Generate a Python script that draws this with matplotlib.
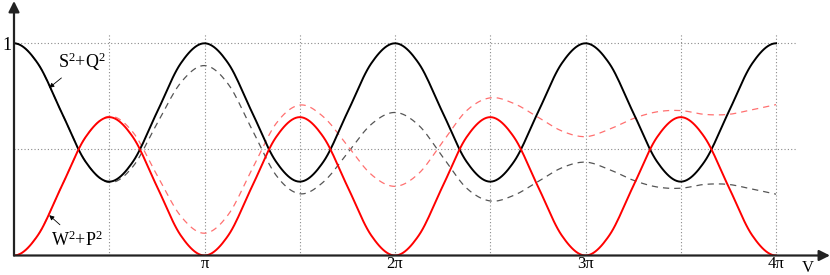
import numpy as np
import matplotlib
matplotlib.use("Agg")
import matplotlib.pyplot as plt

# ---- data (sampled every pi/8 from v = 0 to 4*pi) ----
v_over_pi = np.arange(33) / 8.0

black_solid = [1.000, 0.905, 0.674, 0.443, 0.348, 0.443, 0.674, 0.905,
               1.000, 0.905, 0.674, 0.443, 0.348, 0.443, 0.674, 0.905,
               1.000, 0.905, 0.674, 0.443, 0.348, 0.443, 0.674, 0.905,
               1.000, 0.905, 0.674, 0.443, 0.348, 0.443, 0.674, 0.905, 1.000]
red_solid = [0.000, 0.095, 0.326, 0.557, 0.652, 0.557, 0.326, 0.095,
             0.000, 0.095, 0.326, 0.557, 0.652, 0.557, 0.326, 0.095,
             0.000, 0.095, 0.326, 0.557, 0.652, 0.557, 0.326, 0.095,
             0.000, 0.095, 0.326, 0.557, 0.652, 0.557, 0.326, 0.095, 0.000]
black_dashed = [1.000, 0.905, 0.674, 0.443, 0.344, 0.420, 0.620, 0.814,
                0.895, 0.807, 0.593, 0.379, 0.291, 0.347, 0.482, 0.618,
                0.674, 0.613, 0.465, 0.318, 0.257, 0.284, 0.348, 0.413,
                0.440, 0.405, 0.355, 0.323, 0.317, 0.335, 0.335, 0.313, 0.289]
red_dashed = [0.000, 0.095, 0.326, 0.557, 0.656, 0.580, 0.380, 0.186,
              0.105, 0.193, 0.407, 0.621, 0.709, 0.653, 0.518, 0.382,
              0.326, 0.387, 0.535, 0.682, 0.743, 0.716, 0.652, 0.587,
              0.560, 0.595, 0.645, 0.677, 0.683, 0.665, 0.665, 0.687, 0.711]

tick_labels = ["\u03c0", "2\u03c0", "3\u03c0", "4\u03c0"]
tick_mult = [1, 2, 3, 4]


def smooth(x, y, reflect_end=True, n=12):
    """Catmull-Rom densification of a sampled curve (for smooth drawing)."""
    x = np.asarray(x, float)
    y = np.asarray(y, float)
    ye = np.concatenate([[y[1]],
                         y,
                         [y[-2] if reflect_end else 2 * y[-1] - y[-2]]])
    xs, ys = [], []
    for i in range(len(y) - 1):
        p0, p1, p2, p3 = ye[i], ye[i + 1], ye[i + 2], ye[i + 3]
        t = np.linspace(0, 1, n, endpoint=False)
        yy = 0.5 * ((2 * p1) + (-p0 + p2) * t +
                    (2 * p0 - 5 * p1 + 4 * p2 - p3) * t ** 2 +
                    (-p0 + 3 * p1 - 3 * p2 + p3) * t ** 3)
        xs.append(x[i] + (x[i + 1] - x[i]) * t)
        ys.append(yy)
    xs.append([x[-1]])
    ys.append([y[-1]])
    return np.concatenate(xs), np.concatenate(ys)


plt.rcParams["font.family"] = ["Liberation Serif", "DejaVu Serif"]
plt.rcParams["mathtext.fontset"] = "custom"
plt.rcParams["mathtext.rm"] = "Liberation Serif"
plt.rcParams["mathtext.it"] = "Liberation Serif:italic"

W, H = 830, 275
fig = plt.figure(figsize=(W / 100, H / 100), dpi=100)
x0_px, base_px = 14.0, 255.5
ax = fig.add_axes([x0_px / W, (H - base_px) / H, 1 - x0_px / W, base_px / H])
xmax = (W - x0_px) / 60.64
ymax = base_px / 212.2
ax.set_xlim(0, xmax)
ax.set_ylim(0, ymax)
for s in ax.spines.values():
    s.set_visible(False)

x = v_over_pi * np.pi

# grid
gkw = dict(color="#8a8a8a", lw=0.8, ls=(0, (1, 2)), zorder=1)
for yv in [1.0, 0.5]:
    ax.plot([0, 12.91], [yv, yv], **gkw)
for k in range(1, 9):
    ax.plot([k * np.pi / 2] * 2, [0, 1.05], **gkw)

# curves
xs, ys = smooth(x, black_dashed, reflect_end=False)
ax.plot(xs, ys, color="#555555", lw=0.9, ls=(0, (5, 4)), zorder=3)
xs, ys = smooth(x, red_dashed, reflect_end=False)
ax.plot(xs, ys, color="#ff7070", lw=0.9, ls=(0, (5, 4)), zorder=3)
xs, ys = smooth(x, black_solid)
ax.plot(xs, ys, color="black", lw=1.4, zorder=4)
xs, ys = smooth(x, red_solid)
ax.plot(xs, ys, color="#ff0000", lw=1.4, zorder=4)

# axes with arrows
ax.annotate("", xy=(xmax, 0), xytext=(0, 0), annotation_clip=False,
            arrowprops=dict(arrowstyle="-|>", color="#222222", lw=1.6,
                            mutation_scale=16, shrinkA=0, shrinkB=0),
            zorder=6)
ax.annotate("", xy=(0, (base_px - 1) / 212.2), xytext=(0, 0), annotation_clip=False,
            arrowprops=dict(arrowstyle="-|>", color="#222222", lw=1.6,
                            mutation_scale=16, shrinkA=0, shrinkB=0),
            zorder=6)

# ticks
ax.set_xticks([m * np.pi for m in tick_mult])
ax.set_xticklabels(tick_labels, fontsize=12)
ax.set_yticks([1.0])
ax.set_yticklabels(["1"], fontsize=13)
ax.tick_params(axis="x", length=0, pad=0.5)
ax.tick_params(axis="y", length=0, pad=2)
ax.text(13.09, -0.06, "V", fontsize=12, ha="center", va="center",
        clip_on=False)

# labels with arrows
ax.annotate("S$^2$+Q$^2$", xy=(0.58, 0.79), xytext=(1.12, 0.915),
            fontsize=13, ha="center", va="center",
            arrowprops=dict(arrowstyle="-|>", color="black", lw=0.6,
                            mutation_scale=7, shrinkA=3, shrinkB=0))
ax.annotate("W$^2$+P$^2$", xy=(0.58, 0.19), xytext=(1.04, 0.073),
            fontsize=13, ha="center", va="center",
            arrowprops=dict(arrowstyle="-|>", color="black", lw=0.6,
                            mutation_scale=7, shrinkA=3, shrinkB=0))

fig.savefig("out.png", dpi=100)
